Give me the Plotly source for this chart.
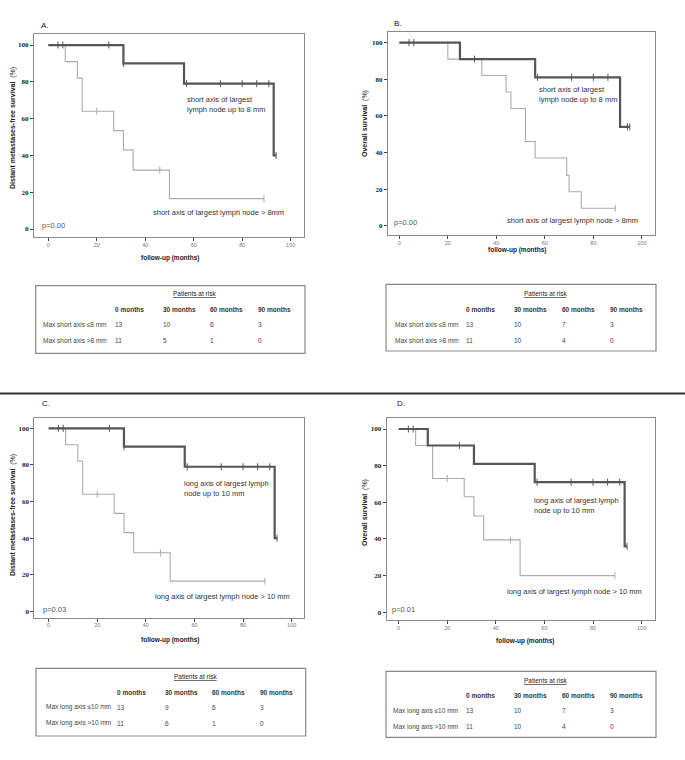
import plotly.graph_objects as go

W, H = 685, 760

# ------------------------- data -------------------------
ticks = [0, 20, 40, 60, 80, 100]
months = ["0 months", "30 months", "60 months", "90 months"]

# Panel A  (short axis, distant metastases-free survival)
A_hi_t = [0, 31, 56, 93, 94]
A_hi_s = [100, 90, 79, 40, 40]
A_hi_c = [4, 6, 25, 31, 57, 71, 80, 86, 91, 94]
A_lo_t = [0, 7, 12, 14, 27, 31, 35, 50, 89]
A_lo_s = [100, 91, 82, 64, 53.5, 43, 32, 16.5, 16.5]
A_lo_c = [20, 46, 89]
A_rows = ["Max short axis \u22648 mm", "Max short axis >8 mm"]
A_risk_hi = [13, 10, 6, 3]
A_risk_lo = [11, 5, 1, 0]

# Panel B  (short axis, overall survival)
B_hi_t = [0, 25, 56, 91, 95]
B_hi_s = [100, 91, 81, 54, 54]
B_hi_c = [4, 6, 31, 57, 71, 80, 86, 94, 95]
B_lo_t = [0, 20, 34, 44, 46, 52, 56, 69, 70, 75, 89]
B_lo_s = [100, 91, 82, 73, 64, 46, 37, 27.5, 18.5, 9.5, 9.5]
B_lo_c = [89]
B_rows = ["Max short axis \u22648 mm", "Max short axis >8 mm"]
B_risk_hi = [13, 10, 7, 3]
B_risk_lo = [11, 10, 4, 0]

# Panel C  (long axis, distant metastases-free survival)
C_hi_t = [0, 31, 56, 93, 94]
C_hi_s = [100, 90, 79, 40, 40]
C_hi_c = [4, 6, 25, 31, 57, 71, 80, 86, 91, 94]
C_lo_t = [0, 7, 12, 14, 27, 31, 35, 50, 89]
C_lo_s = [100, 91, 82, 64, 53.5, 43, 32, 16.5, 16.5]
C_lo_c = [20, 46, 89]
C_rows = ["Max long axis \u226410 mm", "Max long axis >10 mm"]
C_risk_hi = [13, 9, 6, 3]
C_risk_lo = [11, 6, 1, 0]

# Panel D  (long axis, overall survival)
D_hi_t = [0, 12, 31, 56, 93, 94]
D_hi_s = [100, 91, 81, 71, 36, 36]
D_hi_c = [4, 6, 25, 57, 71, 80, 86, 91, 94]
D_lo_t = [0, 7, 14, 27, 31, 35, 50, 89]
D_lo_s = [100, 91, 73, 63, 52.5, 39.5, 20, 20]
D_lo_c = [20, 46, 89]
D_rows = ["Max long axis \u226410 mm", "Max long axis >10 mm"]
D_risk_hi = [13, 10, 7, 3]
D_risk_lo = [11, 10, 4, 0]

# ------------------------- helpers -------------------------
def px(x):
    return x / W

def py(y):
    return 1 - y / H

def surv_at(ts, ss, t):
    v = ss[0]
    for ti, si in zip(ts, ss):
        if ti <= t:
            v = si
    return v

DARK = "#555555"
LIGHT = "#ababab"
TXT = "#333333"
SANS = "Liberation Sans, Arial, sans-serif"
SERIF = "Liberation Serif, Times New Roman, serif"

panels = [
    dict(hi=(A_hi_t, A_hi_s, A_hi_c), lo=(A_lo_t, A_lo_s, A_lo_c),
         box=(34, 34, 304, 237), xr=(-5.9, 105.5), yr=(-4.35, 106),
         label="A.", label_pos=(39, 25),
         ytitle="<b>Distant metastases-free survival</b>  (%)", ytitle_pos=(13, 128),
         xtitle_pos=(170, 258),
         hi_text="short axis of largest<br>lymph node up to 8 mm", hi_pos=(56.4, 67.5),
         lo_text="short axis of largest lymph node > 8mm", lo_pos=(42.4, 9),
         p="p=0.00", p_pos=(-3.4, 2)),
    dict(hi=(B_hi_t, B_hi_s, B_hi_c), lo=(B_lo_t, B_lo_s, B_lo_c),
         box=(388, 32, 655, 235), xr=(-4.66, 105.4), yr=(-5.1, 105.8),
         label="B.", label_pos=(392, 23),
         ytitle="<b>Overall survival</b>  (%)", ytitle_pos=(365, 124),
         xtitle_pos=(517, 250),
         hi_text="short axis of largest<br>lymph node up to 8 mm", hi_pos=(56.7, 71.5),
         lo_text="short axis of largest lymph node > 8mm", lo_pos=(43.5, 2.7),
         p="p=0.00", p_pos=(-3.2, 1.5)),
    dict(hi=(C_hi_t, C_hi_s, C_hi_c), lo=(C_lo_t, C_lo_s, C_lo_c),
         box=(34.3, 417.7, 304.3, 617.7), xr=(-5.9, 105.2), yr=(-3.5, 105.8),
         label="C.", label_pos=(40, 403),
         ytitle="<b>Distant metastases-free survival</b>  (%)", ytitle_pos=(13, 515),
         xtitle_pos=(170, 640),
         hi_text="long axis of largest lymph<br>node up to 10 mm", hi_pos=(54.7, 67),
         lo_text="long axis of largest lymph node > 10 mm", lo_pos=(42.8, 8),
         p="p=0.03", p_pos=(-3.3, 1)),
    dict(hi=(D_hi_t, D_hi_s, D_hi_c), lo=(D_lo_t, D_lo_s, D_lo_c),
         box=(386.7, 418, 655, 620), xr=(-4.9, 105.5), yr=(-4.2, 106),
         label="D.", label_pos=(395, 403),
         ytitle="<b>Overall survival</b>  (%)", ytitle_pos=(365, 513),
         xtitle_pos=(525, 641),
         hi_text="long axis of largest lymph<br>node up to 10 mm", hi_pos=(55, 58.3),
         lo_text="long axis of largest lymph node > 10 mm", lo_pos=(43.9, 11.6),
         p="p=0.01", p_pos=(-3.6, 1.3)),
]

tables = [
    dict(rows=A_rows, vals=(A_risk_hi, A_risk_lo), box=(35.7, 285.7, 305, 353.3),
         title=(194, 293.3), head_y=309, cols=[113, 161, 208, 256], lab_x=41, row_y=[324, 340]),
    dict(rows=B_rows, vals=(B_risk_hi, B_risk_lo), box=(386, 284.3, 656, 351),
         title=(545.7, 293.7), head_y=309.3, cols=[464.3, 512, 559.7, 607.7], lab_x=392.7, row_y=[324.3, 340]),
    dict(rows=C_rows, vals=(C_risk_hi, C_risk_lo), box=(36, 668.3, 305.7, 736),
         title=(196, 676.7), head_y=692.7, cols=[115, 162.7, 210, 258.3], lab_x=43.7, row_y=[707.3, 723.3]),
    dict(rows=D_rows, vals=(D_risk_hi, D_risk_lo), box=(386, 671.3, 656, 737.3),
         title=(545.7, 680), head_y=695.7, cols=[464.3, 512, 559.7, 607.7], lab_x=391, row_y=[710.7, 726.7]),
]

fig = go.Figure()
annotations = []
shapes = []
layout_axes = {}

for i, p in enumerate(panels):
    n = i + 1
    xa = "x" if n == 1 else f"x{n}"
    ya = "y" if n == 1 else f"y{n}"
    l, t, r, b = p["box"]
    for key, color, width in (("lo", LIGHT, 1.1), ("hi", DARK, 2.2)):
        ts, ss, cs = p[key]
        fig.add_trace(go.Scatter(x=ts, y=ss, mode="lines", line=dict(color=color, width=width, shape="hv"),
                                 xaxis=xa, yaxis=ya, showlegend=False, hoverinfo="skip"))
        fig.add_trace(go.Scatter(x=cs, y=[surv_at(ts, ss, c) for c in cs], mode="markers",
                                 marker=dict(symbol="line-ns", size=5,
                                             line=dict(color=color, width=1)),
                                 xaxis=xa, yaxis=ya, showlegend=False, hoverinfo="skip"))
    axis_common = dict(showline=True, mirror=True, linecolor="#8a8a8a", linewidth=1,
                       ticks="outside", ticklen=3, tickcolor="#444", tickwidth=1,
                       showgrid=False, zeroline=False, tickvals=ticks, fixedrange=True)
    layout_axes["xaxis" if n == 1 else f"xaxis{n}"] = dict(
        axis_common, domain=[px(l), px(r)], range=list(p["xr"]), anchor=ya,
        ticklabelstandoff=-1,
        tickfont=dict(family=SANS, size=5.5, color="#777"))
    layout_axes["yaxis" if n == 1 else f"yaxis{n}"] = dict(
        axis_common, domain=[py(b), py(t)], range=list(p["yr"]), anchor=xa,
        tickfont=dict(family=SERIF, size=7, color="#222", weight="bold"))
    # panel texts in data coordinates
    annotations.append(dict(xref=xa, yref=ya, x=p["hi_pos"][0], y=p["hi_pos"][1], text=p["hi_text"],
                            showarrow=False, xanchor="left", yanchor="middle", align="left",
                            font=dict(family=SANS, size=7.5, color=TXT)))
    annotations.append(dict(xref=xa, yref=ya, x=p["lo_pos"][0], y=p["lo_pos"][1], text=p["lo_text"],
                            showarrow=False, xanchor="left", yanchor="middle",
                            font=dict(family=SANS, size=7.5, color=TXT)))
    annotations.append(dict(xref=xa, yref=ya, x=p["p_pos"][0], y=p["p_pos"][1], text=p["p"],
                            showarrow=False, xanchor="left", yanchor="middle",
                            font=dict(family=SANS, size=7.5, color="#555")))
    # panel label and axis titles
    annotations.append(dict(xref="paper", yref="paper", x=px(p["label_pos"][0]), y=py(p["label_pos"][1]),
                            text=p["label"], showarrow=False, xanchor="left", yanchor="middle",
                            font=dict(family=SANS, size=8, color="#111")))
    annotations.append(dict(xref="paper", yref="paper", x=px(p["ytitle_pos"][0]), y=py(p["ytitle_pos"][1]),
                            text=p["ytitle"], textangle=-90, showarrow=False, xanchor="center", yanchor="middle",
                            font=dict(family=SANS, size=7, color="#222")))
    annotations.append(dict(xref="paper", yref="paper", x=px(p["xtitle_pos"][0]), y=py(p["xtitle_pos"][1]),
                            text="<b>follow-up (months)</b>", showarrow=False, xanchor="center", yanchor="middle",
                            font=dict(family=SANS, size=6.5, color="#222")))

# risk tables
for tb in tables:
    l, t, r, b = tb["box"]
    shapes.append(dict(type="rect", xref="paper", yref="paper", x0=px(l), x1=px(r), y0=py(b), y1=py(t),
                       line=dict(color="#888", width=1.2), fillcolor="white"))
    annotations.append(dict(xref="paper", yref="paper", x=px(tb["title"][0]), y=py(tb["title"][1]),
                            text="<u>Patients at risk</u>", showarrow=False, xanchor="center", yanchor="middle",
                            font=dict(family=SANS, size=6.5, color="#222")))
    for cx, m in zip(tb["cols"], months):
        annotations.append(dict(xref="paper", yref="paper", x=px(cx), y=py(tb["head_y"]), text=f"<b>{m}</b>",
                                showarrow=False, xanchor="left", yanchor="middle",
                                font=dict(family=SANS, size=6.5, color="#333")))
    for ry, lab, vals in zip(tb["row_y"], tb["rows"], tb["vals"]):
        annotations.append(dict(xref="paper", yref="paper", x=px(tb["lab_x"]), y=py(ry), text=lab,
                                showarrow=False, xanchor="left", yanchor="middle",
                                font=dict(family=SANS, size=6.5, color="#444")))
        for cx, v in zip(tb["cols"], vals):
            annotations.append(dict(xref="paper", yref="paper", x=px(cx), y=py(ry), text=str(v),
                                    showarrow=False, xanchor="left", yanchor="middle",
                                    font=dict(family=SANS, size=6.5, color="#444")))

# horizontal separator between the two rows
shapes.append(dict(type="line", xref="paper", yref="paper", x0=0, x1=1, y0=py(393.5), y1=py(393.5),
                   line=dict(color="#333", width=2)))

fig.update_layout(width=W, height=H, autosize=False, margin=dict(l=0, r=0, t=0, b=0),
                  paper_bgcolor="white", plot_bgcolor="white", showlegend=False,
                  annotations=annotations, shapes=shapes, **layout_axes)

fig.write_html("out.html", config={"displayModeBar": False},
               post_script="document.body.style.margin='0';document.body.style.padding='0';")
